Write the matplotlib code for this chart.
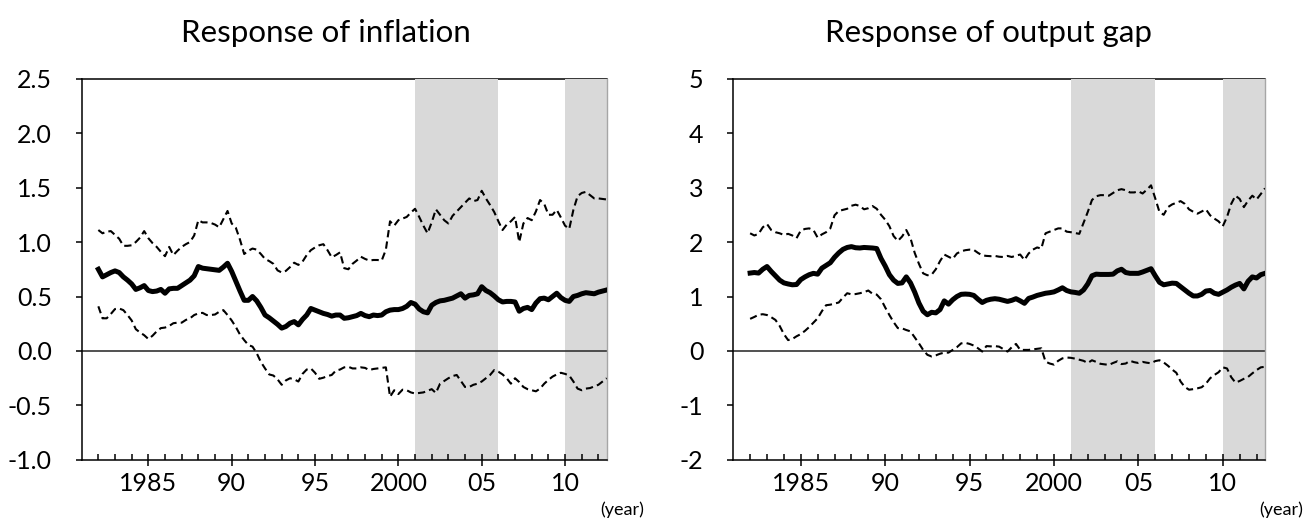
import matplotlib.pyplot as plt
import numpy as np

plt.rcParams['font.family'] = ['Lato', 'DejaVu Sans']

# quarterly observations, 1982Q1 .. 2012Q3
quarters = 1982 + np.arange(123) / 4.0

inf_mid = [0.75, 0.68, 0.70, 0.72, 0.735, 0.72, 0.68, 0.65, 0.615, 0.565,
           0.58, 0.60, 0.555, 0.545, 0.55, 0.565, 0.53, 0.57, 0.575, 0.575,
           0.60, 0.625, 0.65, 0.69, 0.775, 0.76, 0.755, 0.75, 0.745, 0.74,
           0.77, 0.805, 0.73, 0.64, 0.55, 0.465, 0.465, 0.50, 0.46, 0.40,
           0.33, 0.305, 0.275, 0.245, 0.21, 0.225, 0.255, 0.27, 0.24, 0.29,
           0.33, 0.39, 0.375, 0.36, 0.345, 0.335, 0.32, 0.33, 0.33, 0.30,
           0.305, 0.315, 0.325, 0.345, 0.325, 0.315, 0.33, 0.325, 0.33, 0.36,
           0.375, 0.38, 0.38, 0.39, 0.41, 0.445, 0.43, 0.385, 0.36, 0.35,
           0.42, 0.445, 0.46, 0.465, 0.475, 0.485, 0.505, 0.525, 0.485, 0.51,
           0.515, 0.525, 0.59, 0.555, 0.535, 0.505, 0.47, 0.45, 0.455, 0.455,
           0.45, 0.365, 0.39, 0.40, 0.38, 0.44, 0.48, 0.485, 0.47, 0.50,
           0.53, 0.49, 0.465, 0.455, 0.50, 0.51, 0.525, 0.535, 0.53, 0.525,
           0.54, 0.55, 0.56]
inf_up = [1.11, 1.08, 1.095, 1.10, 1.065, 1.03, 0.965, 0.965, 0.97, 1.00,
          1.04, 1.10, 1.035, 0.99, 0.955, 0.91, 0.87, 0.955, 0.88, 0.92,
          0.955, 0.98, 1.00, 1.06, 1.20, 1.18, 1.18, 1.175, 1.16, 1.135,
          1.21, 1.285, 1.17, 1.13, 1.02, 0.89, 0.92, 0.94, 0.93, 0.89,
          0.845, 0.825, 0.80, 0.74, 0.72, 0.735, 0.77, 0.81, 0.79, 0.82,
          0.88, 0.925, 0.95, 0.97, 0.98, 0.925, 0.86, 0.88, 0.905, 0.76,
          0.75, 0.80, 0.83, 0.865, 0.845, 0.83, 0.835, 0.835, 0.83, 0.93,
          1.19, 1.15, 1.20, 1.215, 1.23, 1.27, 1.305, 1.23, 1.15, 1.08,
          1.18, 1.30, 1.25, 1.20, 1.17, 1.24, 1.28, 1.32, 1.36, 1.40,
          1.375, 1.385, 1.47, 1.40, 1.34, 1.275, 1.19, 1.11, 1.16, 1.19,
          1.23, 1.00, 1.17, 1.22, 1.20, 1.28, 1.385, 1.35, 1.25, 1.25,
          1.295, 1.225, 1.15, 1.12, 1.295, 1.42, 1.45, 1.46, 1.43, 1.40,
          1.40, 1.395, 1.39]
inf_lo = [0.41, 0.30, 0.30, 0.34, 0.385, 0.39, 0.375, 0.33, 0.28, 0.20,
          0.17, 0.145, 0.11, 0.14, 0.18, 0.21, 0.215, 0.23, 0.255, 0.26,
          0.26, 0.285, 0.30, 0.33, 0.345, 0.35, 0.33, 0.33, 0.335, 0.36,
          0.375, 0.33, 0.28, 0.22, 0.15, 0.10, 0.055, 0.04, -0.02, -0.10,
          -0.16, -0.215, -0.225, -0.26, -0.31, -0.27, -0.25, -0.26, -0.28, -0.21,
          -0.17, -0.16, -0.20, -0.255, -0.245, -0.23, -0.22, -0.18, -0.17, -0.15,
          -0.145, -0.16, -0.16, -0.15, -0.155, -0.175, -0.165, -0.16, -0.155, -0.15,
          -0.42, -0.36, -0.395, -0.355, -0.36, -0.38, -0.39, -0.385, -0.38, -0.365,
          -0.35, -0.385, -0.30, -0.275, -0.25, -0.23, -0.22, -0.275, -0.33, -0.33,
          -0.31, -0.30, -0.28, -0.25, -0.22, -0.175, -0.19, -0.215, -0.25, -0.30,
          -0.25, -0.285, -0.33, -0.35, -0.36, -0.37, -0.345, -0.30, -0.265, -0.235,
          -0.215, -0.20, -0.21, -0.225, -0.28, -0.345, -0.36, -0.345, -0.34, -0.325,
          -0.31, -0.28, -0.25]

gap_mid = [1.43, 1.44, 1.43, 1.50, 1.55, 1.46, 1.38, 1.30, 1.25, 1.23,
           1.215, 1.22, 1.31, 1.36, 1.40, 1.425, 1.41, 1.52, 1.57, 1.62,
           1.72, 1.80, 1.865, 1.90, 1.915, 1.895, 1.89, 1.90, 1.895, 1.89,
           1.88, 1.70, 1.56, 1.40, 1.30, 1.24, 1.25, 1.36, 1.25, 1.08,
           0.88, 0.73, 0.665, 0.71, 0.70, 0.76, 0.92, 0.86, 0.94, 1.00,
           1.04, 1.045, 1.04, 1.02, 0.95, 0.89, 0.93, 0.95, 0.96, 0.95,
           0.93, 0.91, 0.93, 0.96, 0.92, 0.875, 0.965, 0.99, 1.02, 1.04,
           1.06, 1.07, 1.085, 1.12, 1.16, 1.11, 1.085, 1.075, 1.06, 1.12,
           1.23, 1.38, 1.41, 1.405, 1.405, 1.405, 1.41, 1.47, 1.50, 1.44,
           1.425, 1.425, 1.425, 1.45, 1.48, 1.51, 1.38, 1.26, 1.215, 1.23,
           1.245, 1.24, 1.18, 1.12, 1.06, 1.01, 1.01, 1.04, 1.10, 1.11,
           1.06, 1.04, 1.08, 1.12, 1.17, 1.21, 1.24, 1.14, 1.28, 1.36,
           1.34, 1.40, 1.425]
gap_up = [2.16, 2.12, 2.15, 2.27, 2.33, 2.22, 2.18, 2.16, 2.13, 2.15,
          2.12, 2.07, 2.21, 2.24, 2.25, 2.22, 2.08, 2.14, 2.18, 2.25,
          2.49, 2.57, 2.59, 2.61, 2.665, 2.685, 2.66, 2.60, 2.62, 2.66,
          2.61, 2.50, 2.41, 2.29, 2.11, 2.02, 2.10, 2.22, 2.07, 1.80,
          1.60, 1.425, 1.39, 1.40, 1.50, 1.65, 1.77, 1.73, 1.69, 1.79,
          1.83, 1.85, 1.86, 1.855, 1.80, 1.755, 1.745, 1.74, 1.745, 1.73,
          1.725, 1.745, 1.725, 1.75, 1.77, 1.67, 1.79, 1.86, 1.90, 1.88,
          2.16, 2.19, 2.22, 2.25, 2.25, 2.19, 2.18, 2.165, 2.15, 2.35,
          2.55, 2.77, 2.84, 2.86, 2.86, 2.85, 2.90, 2.95, 2.97, 2.95,
          2.91, 2.91, 2.93, 2.89, 2.96, 3.04, 2.80, 2.55, 2.50, 2.64,
          2.69, 2.72, 2.75, 2.70, 2.60, 2.555, 2.52, 2.56, 2.60, 2.49,
          2.43, 2.38, 2.29, 2.46, 2.70, 2.85, 2.79, 2.64, 2.76, 2.85,
          2.78, 2.88, 2.985]
gap_lo = [0.59, 0.625, 0.665, 0.675, 0.66, 0.62, 0.57, 0.46, 0.31, 0.20,
          0.22, 0.27, 0.31, 0.37, 0.44, 0.52, 0.60, 0.73, 0.84, 0.85,
          0.87, 0.89, 0.98, 1.06, 1.04, 1.045, 1.06, 1.08, 1.11, 1.05,
          1.035, 0.95, 0.80, 0.66, 0.53, 0.42, 0.415, 0.385, 0.36, 0.25,
          0.14, 0.02, -0.07, -0.10, -0.08, -0.05, -0.03, -0.03, 0.02, 0.07,
          0.14, 0.15, 0.13, 0.10, 0.05, -0.01, 0.09, 0.085, 0.09, 0.08,
          0.035, -0.01, 0.07, 0.13, 0.02, 0.02, 0.02, 0.03, 0.04, 0.05,
          -0.195, -0.23, -0.25, -0.18, -0.135, -0.12, -0.125, -0.14, -0.16, -0.18,
          -0.22, -0.17, -0.20, -0.235, -0.245, -0.255, -0.22, -0.19, -0.24, -0.23,
          -0.18, -0.205, -0.22, -0.20, -0.215, -0.225, -0.185, -0.17, -0.21, -0.27,
          -0.34, -0.40, -0.56, -0.66, -0.71, -0.70, -0.685, -0.665, -0.60, -0.50,
          -0.44, -0.39, -0.30, -0.32, -0.48, -0.58, -0.55, -0.51, -0.475, -0.41,
          -0.35, -0.30, -0.29]

shaded = [(2001, 2006), (2010, 2012.5)]
year_ticks = [1985, 1990, 1995, 2000, 2005, 2010]
year_labels = ['1985', '90', '95', '2000', '05', '10']

fig = plt.figure(figsize=(13.11, 5.19), dpi=100)
ax1 = fig.add_axes([0.0623, 0.1137, 0.4005, 0.735])
ax2 = fig.add_axes([0.5593, 0.1137, 0.4056, 0.735])

panels = [
    (ax1, 'Response of inflation', inf_mid, inf_up, inf_lo,
     (-1.0, 2.5), np.arange(-1.0, 2.51, 0.5), '{:.1f}', 0.465),
    (ax2, 'Response of output gap', gap_mid, gap_up, gap_lo,
     (-2, 5), np.arange(-2, 6, 1), '{:.0f}', 0.48),
]

for ax, title, mid, up, lo, ylim, yt, fmt, tx in panels:
    for a, b in shaded:
        ax.axvspan(a, b, color='#d9d9d9', lw=0, zorder=2.6)
    ax.axhline(0, color='#333333', lw=1.2, zorder=3)
    ax.plot(quarters, up, color='black', lw=1.5, ls=(0, (3.5, 2)), zorder=4)
    ax.plot(quarters, lo, color='black', lw=1.5, ls=(0, (3.5, 2)), zorder=4)
    ax.plot(quarters, mid, color='black', lw=3.6, zorder=5)

    ax.set_xlim(1981, 2012.5)
    ax.set_ylim(*ylim)
    ax.set_yticks(yt)
    ax.set_yticklabels([fmt.format(v) for v in yt])
    ax.set_xticks(year_ticks)
    ax.set_xticklabels(year_labels)
    ax.set_xticks([y for y in range(1982, 2013) if y not in year_ticks], minor=True)

    ax.tick_params(axis='y', direction='out', length=4.5, width=1.1,
                   labelsize=18, pad=17)
    ax.tick_params(axis='x', which='major', direction='inout', length=8,
                   width=1.1, labelsize=18, pad=5)
    ax.tick_params(axis='x', which='minor', direction='in', length=4, width=1.1)

    for s in ['left', 'bottom']:
        ax.spines[s].set_linewidth(1.1)
        ax.spines[s].set_zorder(3.5)
    ax.spines['top'].set_linewidth(1.1)
    ax.spines['right'].set_color('#a6a6a6')
    ax.spines['right'].set_linewidth(1.0)
    ax.spines['right'].set_zorder(3.5)
    ax.xaxis.set_zorder(3.5)

    ax.text(tx, 1.12, title, transform=ax.transAxes, ha='center',
            va='center', fontsize=22.5)
    ax.text(1.03, -0.13, '(year)', transform=ax.transAxes, ha='center',
            va='center', fontsize=13)

fig.savefig('out.png', dpi=100)
